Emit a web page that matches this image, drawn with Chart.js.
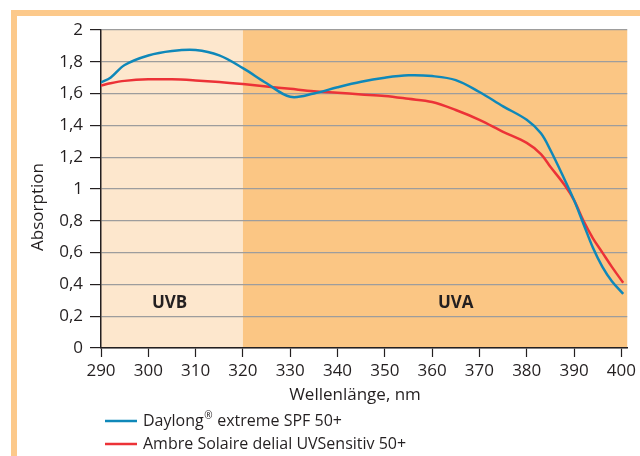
<!DOCTYPE html>
<html>
<head>
<meta charset="utf-8">
<script src="https://cdn.jsdelivr.net/npm/chart.js@4"></script>
<style>
  html, body { margin: 0; padding: 0; background: #fff; }
  #wrap { width: 640px; height: 456px; position: relative; }
</style>
</head>
<body>
<div id="wrap"><canvas id="chart"></canvas></div>
<script>
// wavelengths (nm) and absorption
const wavelengths = [290, 292, 295, 300, 305, 310, 315, 320, 325, 330, 335, 340, 345, 350, 355, 360, 365, 370, 375, 380, 383, 385, 388, 390, 392, 394, 396, 398, 400.4];
const daylong = [1.67, 1.70, 1.78, 1.84, 1.868, 1.874, 1.84, 1.76, 1.665, 1.58, 1.60, 1.64, 1.675, 1.70, 1.715, 1.71, 1.685, 1.61, 1.52, 1.435, 1.35, 1.245, 1.06, 0.93, 0.78, 0.63, 0.51, 0.42, 0.34];
const ambre = [1.65, 1.665, 1.68, 1.69, 1.69, 1.683, 1.673, 1.66, 1.645, 1.63, 1.615, 1.605, 1.595, 1.585, 1.567, 1.547, 1.497, 1.435, 1.36, 1.29, 1.22, 1.14, 1.025, 0.93, 0.8, 0.69, 0.6, 0.51, 0.41];
const seriesLabels = ['Daylong® extreme SPF 50+', 'Ambre Solaire delial UVSensitiv 50+'];
const seriesColors = ['#0f88b9', '#ec3237'];
const bands = [
    { label: 'UVB', from: 290, to: 320, color: '#fde7cd', textX: 304.5 },
    { label: 'UVA', from: 320, to: 401.25, color: '#fbc684', textX: 365 }
];

const FONT = '"Open Sans", "Noto Sans", sans-serif';
const toPoints = (vals) => vals.map((v, i) => ({ x: wavelengths[i], y: v }));

const decor = {
    id: 'decor',
    beforeDraw(chart) {
        const { ctx, chartArea: a, scales: { x } } = chart;
        ctx.save();
        // page frame
        ctx.fillStyle = '#fcc98b';
        ctx.fillRect(11, 10, 629, 6);
        ctx.fillRect(11, 10, 6, 446);
        // UVB / UVA backgrounds
        bands.forEach(b => {
            const x0 = x.getPixelForValue(b.from);
            const x1 = Math.min(x.getPixelForValue(b.to), a.right);
            ctx.fillStyle = b.color;
            ctx.fillRect(x0, a.top, x1 - x0, a.bottom - a.top);
        });
        ctx.restore();
    },
    afterDraw(chart) {
        const { ctx, scales: { x, y } } = chart;
        ctx.save();
        ctx.fillStyle = '#231f20';
        ctx.textBaseline = 'middle';
        ctx.textAlign = 'center';
        ctx.font = `bold 17px ${FONT}`;
        bands.forEach(b => ctx.fillText(b.label, x.getPixelForValue(b.textX), y.getPixelForValue(0.28)));

        // axis titles
        ctx.font = `17px ${FONT}`;
        ctx.fillText('Wellenlänge, nm', 355, 395);
        ctx.save();
        ctx.translate(38, 207);
        ctx.rotate(-Math.PI / 2);
        ctx.fillText('Absorption', 0, 0);
        ctx.restore();

        // legend
        ctx.textAlign = 'left';
        const rows = [421, 444];
        chart.data.datasets.forEach((ds, i) => {
            const ly = rows[i];
            ctx.strokeStyle = ds.borderColor;
            ctx.lineWidth = 2.5;
            ctx.beginPath();
            ctx.moveTo(105, ly);
            ctx.lineTo(137, ly);
            ctx.stroke();
            ctx.font = `16px ${FONT}`;
            const parts = ds.label.split('®');
            if (parts.length === 2) {
                ctx.fillText(parts[0], 143, ly);
                const w = ctx.measureText(parts[0]).width;
                ctx.font = `10px ${FONT}`;
                ctx.fillText('®', 143 + w + 0.5, ly - 5);
                const rw = ctx.measureText('®').width;
                ctx.font = `16px ${FONT}`;
                ctx.fillText(parts[1], 143 + w + rw + 1, ly);
            } else {
                ctx.fillText(ds.label, 143, ly);
            }
        });
        ctx.restore();
    }
};

new Chart(document.getElementById('chart'), {
    type: 'line',
    data: {
        datasets: [
            {
                label: seriesLabels[0],
                data: toPoints(daylong),
                borderColor: seriesColors[0],
                borderWidth: 2.5,
                pointRadius: 0,
                tension: 0.35
            },
            {
                label: seriesLabels[1],
                data: toPoints(ambre),
                borderColor: seriesColors[1],
                borderWidth: 2.5,
                pointRadius: 0,
                tension: 0.35
            }
        ]
    },
    options: {
        responsive: true,
        maintainAspectRatio: false,
        animation: false,
        layout: { padding: { left: 0, top: 30, right: 8, bottom: 0 } },
        plugins: {
            legend: { display: false },
            tooltip: { enabled: false }
        },
        scales: {
            x: {
                type: 'linear',
                min: 290,
                max: 401.25,
                afterFit: (s) => { s.height = 108; },
                border: { display: true, color: '#231f20', width: 1.5 },
                grid: { drawOnChartArea: false, tickColor: '#231f20', tickLength: 9, tickWidth: 1.2 },
                ticks: {
                    stepSize: 10,
                    includeBounds: false,
                    padding: 4,
                    color: '#231f20',
                    font: { family: FONT, size: 17 },
                    maxRotation: 0
                }
            },
            y: {
                min: 0,
                max: 2,
                afterFit: (s) => { s.width = 101; },
                border: { display: true, color: '#231f20', width: 1.5 },
                grid: { color: '#9d9d9d', lineWidth: 1.2, tickColor: '#231f20', tickLength: 11, tickWidth: 1.2 },
                ticks: {
                    stepSize: 0.2,
                    padding: 7,
                    color: '#231f20',
                    font: { family: FONT, size: 17 },
                    callback: (v) => (Math.round(v * 10) / 10).toString().replace('.', ',')
                }
            }
        }
    },
    plugins: [decor]
});
</script>
</body>
</html>
